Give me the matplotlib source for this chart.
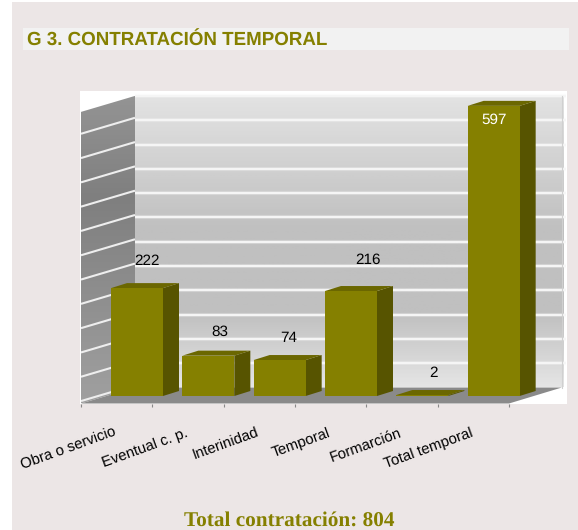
import numpy as np
import matplotlib
matplotlib.use('Agg')
import matplotlib.pyplot as plt
from matplotlib.patches import Polygon, Rectangle
from matplotlib.colors import LinearSegmentedColormap
from matplotlib.transforms import ScaledTranslation

categorias = ['Obra o servicio', 'Eventual c. p.', 'Interinidad', 'Temporal', 'Formarción', 'Total temporal']
valores = [222, 83, 74, 216, 2, 597]
grid_valores = [0, 50, 100, 150, 200, 250, 300, 350, 400, 450, 500, 550, 600]

W, H = 578, 530
OLIVA = '#858000'
OLIVA_LADO = '#575400'
OLIVA_TAPA = '#6b6700'
FONDO = '#ece6e6'

plt.rcParams['font.family'] = ['Liberation Sans', 'DejaVu Sans']
plt.rcParams['text.hinting'] = 'none'

fig = plt.figure(figsize=(W / 100, H / 100), dpi=100, facecolor='white')

# capa de fondo en pixeles
bg = fig.add_axes([0, 0, 1, 1])
bg.set_xlim(0, W)
bg.set_ylim(H, 0)
bg.axis('off')
bg.add_patch(Rectangle((12, 2), W - 12, H - 2, color=FONDO, lw=0))
bg.add_patch(Rectangle((23, 28), 546, 22, color='#f2f2f2', lw=0))
bg.add_patch(Rectangle((80, 91), 487, 313, color='white', lw=0))
bg.text(27, 41, 'G 3. CONTRATACIÓN TEMPORAL', color=OLIVA, fontsize=13.5,
        fontweight='bold', va='center', ha='left')
bg.text(289, 521, 'Total contratación: 804', color=OLIVA, fontsize=15.3,
        fontweight='bold', family='Liberation Serif', va='center', ha='center')

# ejes de datos: plano frontal, x=0 en 81, y=0 en 403.5
PX_Y = 0.486
PX_X = (509 - 81) / 6
alto = 330
ancho_ax = 567 - 81
ax = fig.add_axes([81 / W, (H - 403.5) / H, ancho_ax / W, alto / H])
ax.patch.set_alpha(0)
for s in ax.spines.values():
    s.set_visible(False)
ax.set_yticks([])


def prof(px_x, px_y):
    # desplazamiento de profundidad, de pixeles a unidades de datos
    return px_x / PX_X, px_y / PX_Y


def limites():
    ax.set_xlim(0, ancho_ax / PX_X)
    ax.set_ylim(0, alto / PX_Y)


wx, wy = prof(54, 16)
xfin = (564 - 81) / PX_X
ytop = 600

# pared del fondo con degradado
cm_pared = LinearSegmentedColormap.from_list('pared', ['#e3e3e3', '#c0c0c0', '#c0c0c0', '#e5e5e5'])
grad = np.linspace(0, 1, 256).reshape(-1, 1)
grad = np.interp(grad, [0, 0.55, 0.7, 1], [0, 0.4, 0.6, 1])
ax.imshow(grad, extent=(wx, xfin, wy, wy + ytop), aspect='auto', cmap=cm_pared, vmin=0, vmax=1, zorder=1)

# pared lateral
cm_lado = LinearSegmentedColormap.from_list('lado', ['#949494', '#7f7f7f', '#8f8f8f', '#a0a0a0'])
lado = ax.imshow(np.linspace(0, 1, 256).reshape(-1, 1), extent=(0, wx, 0, wy + ytop), aspect='auto',
                 cmap=cm_lado, zorder=1)
lado.set_clip_path(Polygon([(0, 0), (wx, wy), (wx, wy + ytop), (0, ytop)], transform=ax.transData))
limites()

# suelo
ax.add_patch(Polygon([(0, 0), (6, 0), (xfin - 0.03, wy), (wx, wy)], color='#8a8a8a', lw=0, zorder=3))

# lineas de rejilla
for v in grid_valores:
    if v > 0:
        ax.plot([wx, xfin + 0.03], [wy + v, wy + v], color='#f4f4f4', lw=3, alpha=0.35, zorder=2,
                solid_capstyle='butt')
        ax.plot([wx, xfin + 0.03], [wy + v, wy + v], color='#f6f6f6', lw=1.4, zorder=2, solid_capstyle='butt')
    if v < 600:
        ax.plot([0, wx], [v + 5, wy + v + 5], color='#eeeeee', lw=1.5, zorder=4, solid_capstyle='butt')
ax.plot([xfin - 0.03, xfin - 0.03], [wy, wy + ytop], color='#d0d0d0', lw=0.8, zorder=2)

# barras en 3D
fx, fy = prof(30, 7.5)
dx, dy = prof(16, 5)
ancho = 52 / PX_X
for i, v in enumerate(valores):
    x0 = i + fx
    ax.bar(x0, v, width=ancho, bottom=fy, align='edge', color=OLIVA, lw=0, zorder=6)
    ax.add_patch(Polygon([(x0 + ancho, fy), (x0 + ancho + dx, fy + dy), (x0 + ancho + dx, fy + v + dy),
                          (x0 + ancho, fy + v)], color=OLIVA_LADO, lw=0, zorder=5))
    ax.add_patch(Polygon([(x0, fy + v), (x0 + dx, fy + v + dy), (x0 + ancho + dx, fy + v + dy),
                          (x0 + ancho, fy + v)], color=OLIVA_TAPA, lw=0, zorder=5))

# etiquetas de valor, desplazamiento a mano respecto a la barra
offs_x = [10, 11, 9, 17, 11, 0]
offs_y = [27, 24, 22, 31, 22, -14]
for i, v in enumerate(valores):
    ax.annotate(str(v), (i + fx + ancho / 2, fy + v), xytext=(offs_x[i] * 0.72, offs_y[i] * 0.72),
                textcoords='offset points', ha='center', va='center', fontsize=11,
                color='white' if v > 500 else 'black', zorder=8)

ax.set_xticks(np.arange(6) + 0.5)
ax.set_xticklabels(categorias, rotation=20, ha='right', rotation_mode='anchor', fontsize=10.7)
ax.set_xticks(np.arange(7), minor=True)
ax.tick_params(axis='x', which='major', length=0, pad=16)
ax.tick_params(axis='x', which='minor', length=2, color='#888888', width=0.8)
mover = ScaledTranslation(-3 / 100, 0, fig.dpi_scale_trans)
for et in ax.get_xticklabels():
    et.set_transform(et.get_transform() + mover)
limites()

fig.savefig('out.png', dpi=100)
